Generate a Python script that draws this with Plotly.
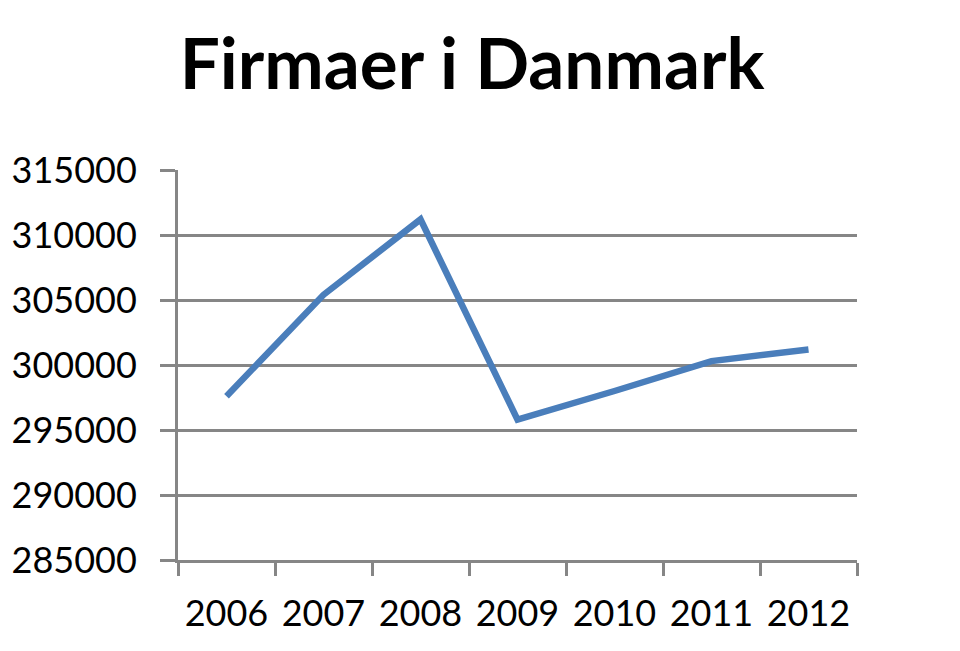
import plotly.graph_objects as go

years = ["2006", "2007", "2008", "2009", "2010", "2011", "2012"]
firmaer = [297600, 305400, 311200, 295800, 298000, 300300, 301200]

tick_vals = [285000, 290000, 295000, 300000, 305000, 310000, 315000]

grey = "#868686"

fig = go.Figure()
fig.add_trace(go.Scatter(
    x=years,
    y=firmaer,
    mode="lines",
    line=dict(color="#4A7EBB", width=6.5),
    showlegend=False
))

# the page body adds an 8px offset, so margins are shifted to compensate
fig.update_layout(
    width=960,
    height=651,
    paper_bgcolor="white",
    plot_bgcolor="white",
    margin=dict(l=170, r=111, t=162, b=99),
    font=dict(family="Lato, Noto Sans, sans-serif", color="black", size=36),
    title=dict(
        text="<b>Firmaer i Danmark</b>",
        x=464 / 960,
        xanchor="center",
        y=1 - 56 / 651,
        yanchor="middle",
        font=dict(size=71, color="black")
    )
)

fig.update_xaxes(
    type="category",
    range=[-0.5, 6.5],
    automargin=False,
    tickangle=0,
    showgrid=False,
    showline=True,
    linecolor=grey,
    linewidth=3,
    ticks="outside",
    tickson="boundaries",
    ticklen=13,
    tickwidth=3,
    tickcolor=grey,
    ticklabelstandoff=20
)

fig.update_yaxes(
    range=[285000, 315000],
    automargin=False,
    tickvals=tick_vals,
    ticktext=[str(v) for v in tick_vals],
    showgrid=True,
    gridcolor=grey,
    gridwidth=2.5,
    showline=True,
    linecolor=grey,
    linewidth=3,
    ticks="outside",
    ticklen=15,
    tickwidth=2.5,
    tickcolor=grey,
    ticklabelstandoff=16,
    zeroline=False
)

fig.write_html("out.html")
